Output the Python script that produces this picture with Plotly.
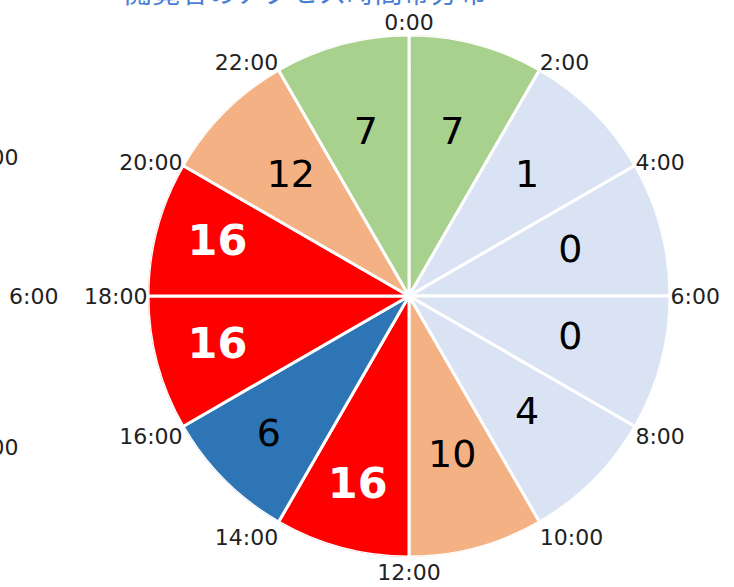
import plotly.graph_objects as go

# ---- data ----
hour_labels = ["0:00", "2:00", "4:00", "6:00", "8:00", "10:00",
               "12:00", "14:00", "16:00", "18:00", "20:00", "22:00"]
counts = [7, 1, 0, 0, 4, 10, 16, 6, 16, 16, 12, 7]
slice_colors = ["#a9d18e", "#dae3f3", "#dae3f3", "#dae3f3", "#dae3f3", "#f4b183",
                "#ff0000", "#2e75b6", "#ff0000", "#ff0000", "#f4b183", "#a9d18e"]
title_text = "閲覧者のアクセス時間帯分布"
left_chart_labels = ["4:00", "6:00", "8:00"]

# ---- derived ----
n = len(counts)
step = 360 / n
centers = [step / 2 + step * i for i in range(n)]
ticks = [step * i for i in range(n)]
is_peak = [c >= 16 for c in counts]
text_colors = ["white" if p else "black" for p in is_peak]
text_sizes = [43 if p else 38 for p in is_peak]
texts = [f"<b>{c}</b>" if p else str(c) for c, p in zip(counts, is_peak)]
text_r = [0.76 if (p or col == "#2e75b6") else 0.64 for p, col in zip(is_peak, slice_colors)]

fig = go.Figure()
fig.add_trace(go.Barpolar(
    r=[1] * n, theta=centers, width=[step] * n,
    marker=dict(color=slice_colors, line=dict(color="white", width=3)),
    hoverinfo="skip", showlegend=False,
))
fig.add_trace(go.Scatterpolar(
    r=text_r, theta=centers, mode="text", text=texts,
    textposition="middle center",
    textfont=dict(family="DejaVu Sans", size=text_sizes, color=text_colors),
    hoverinfo="skip", showlegend=False,
))

W, H = 734, 587
cx, cy, R = 409, 296, 261
fig.update_layout(
    width=W, height=H,
    margin=dict(l=0, r=0, t=0, b=0, autoexpand=False),
    paper_bgcolor="white",
    polar=dict(
        domain=dict(x=[(cx - R) / W, (cx + R) / W],
                    y=[(H - cy - R) / H, (H - cy + R) / H]),
        bgcolor="white",
        angularaxis=dict(direction="clockwise", rotation=90,
                         tickmode="array", tickvals=ticks, ticktext=hour_labels,
                         showgrid=False, showline=False, ticks="",
                         tickfont=dict(family="DejaVu Sans", size=22, color="#222")),
        radialaxis=dict(visible=False, range=[0, 1]),
    ),
    font=dict(family="DejaVu Sans"),
)

# cropped title at the top
fig.add_annotation(text=title_text, xref="paper", yref="paper",
                   x=305 / W, y=1 + 9 / H, xanchor="center", yanchor="middle",
                   showarrow=False,
                   font=dict(family="Noto Sans CJK JP", size=28, color="#4a7fd4"))

# labels of a neighbouring chart, cropped at the left edge
for lab, xpx, ypx in zip(left_chart_labels, [20, 60, 20], [157, 297, 447]):
    fig.add_annotation(text=lab, xref="paper", yref="paper",
                       x=xpx / W, y=1 - ypx / H, xanchor="right", yanchor="middle",
                       showarrow=False,
                       font=dict(family="DejaVu Sans", size=22, color="#222"))

fig.write_html("out.html", config={"displayModeBar": False},
               post_script="document.body.style.margin='0';")
